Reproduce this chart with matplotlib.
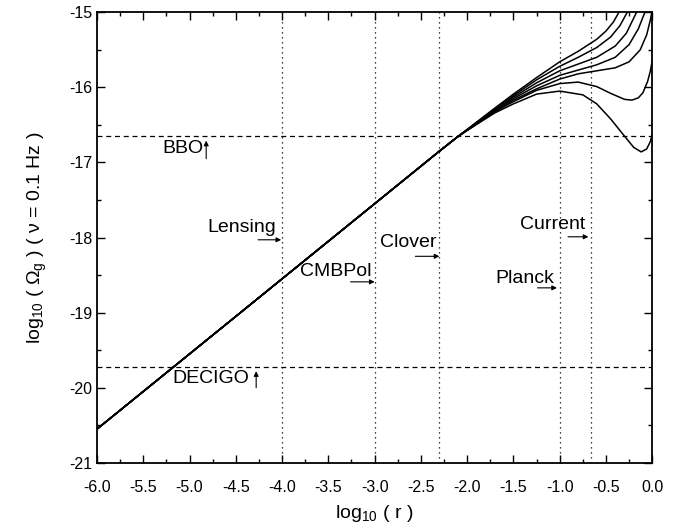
import matplotlib
matplotlib.use("Agg")
import matplotlib.pyplot as plt

plt.rcParams['font.family'] = ['Liberation Sans', 'DejaVu Sans']
plt.rcParams['mathtext.default'] = 'regular'
plt.rcParams['axes.unicode_minus'] = False

# common straight part (all curves overlap here)
x_common = [-6.0, -4.0, -2.3, -2.1]
y_common = [-20.55, -18.55, -16.85, -16.655]

# fan-out part of each curve
curve_x = [
    [-1.9, -1.7, -1.5, -1.25, -1.0, -0.8, -0.6, -0.5, -0.42, -0.36],
    [-1.9, -1.7, -1.5, -1.25, -1.0, -0.8, -0.6, -0.45, -0.35, -0.27],
    [-1.9, -1.7, -1.5, -1.25, -1.0, -0.8, -0.6, -0.4, -0.28, -0.17],
    [-1.9, -1.7, -1.5, -1.25, -1.0, -0.8, -0.6, -0.4, -0.25, -0.15, -0.08],
    [-1.9, -1.7, -1.5, -1.25, -1.0, -0.8, -0.6, -0.4, -0.25, -0.13, -0.06, -0.02, -0.005],
    [-1.9, -1.7, -1.5, -1.25, -1.0, -0.8, -0.6, -0.45, -0.3, -0.22, -0.15, -0.1, -0.05, -0.02, 0.0],
    [-1.9, -1.7, -1.5, -1.25, -1.0, -0.75, -0.6, -0.45, -0.3, -0.2, -0.12, -0.06, -0.02, 0.0],
]
curve_y = [
    [-16.465, -16.275, -16.09, -15.87, -15.66, -15.52, -15.36, -15.25, -15.13, -15.0],
    [-16.47, -16.285, -16.11, -15.9, -15.72, -15.6, -15.47, -15.33, -15.18, -15.0],
    [-16.475, -16.295, -16.13, -15.94, -15.78, -15.69, -15.6, -15.45, -15.28, -15.0],
    [-16.48, -16.305, -16.15, -15.98, -15.84, -15.77, -15.7, -15.6, -15.43, -15.22, -15.0],
    [-16.485, -16.315, -16.17, -16.02, -15.89, -15.82, -15.78, -15.74, -15.66, -15.5, -15.3, -15.1, -15.0],
    [-16.49, -16.325, -16.19, -16.04, -15.95, -15.93, -15.99, -16.08, -16.16, -16.17, -16.14, -16.07, -15.92, -15.78, -15.64],
    [-16.495, -16.34, -16.22, -16.09, -16.05, -16.1, -16.22, -16.42, -16.65, -16.8, -16.86, -16.82, -16.72, -16.62],
]

# experiment sensitivities
vlines_x = [-4.0, -3.0, -2.3, -1.0, -0.66]
hlines_y = [-16.65, -19.72]

labels = ["BBO", "Lensing", "CMBPol", "Clover", "Current", "Planck", "DECIGO"]
label_xy = [(-5.29, -16.82), (-4.81, -17.87), (-3.81, -18.45), (-2.94, -18.07),
            (-1.43, -17.82), (-1.70, -18.55), (-5.19, -19.88)]
arrow_from = [(-4.82, -16.95), (-4.26, -18.03), (-3.26, -18.59), (-2.56, -18.25),
              (-0.91, -17.99), (-1.24, -18.67), (-4.28, -20.0)]
arrow_to = [(-4.82, -16.71), (-4.01, -18.03), (-3.0, -18.59), (-2.30, -18.25),
            (-0.69, -17.99), (-1.03, -18.67), (-4.28, -19.78)]

fig = plt.figure(figsize=(6.83, 5.32), dpi=100)
ax = fig.add_axes([0.142, 0.130, 0.813, 0.847])

for cx, cy in zip(curve_x, curve_y):
    ax.plot(x_common + cx, y_common + cy, color='k', lw=1.1)

for xv in vlines_x:
    ax.axvline(xv, color='k', lw=0.9, linestyle=(0, (1, 3)))
for yv in hlines_y:
    ax.axhline(yv, color='k', lw=0.9, linestyle=(0, (4, 3)))

for lab, (tx, ty), a0, a1 in zip(labels, label_xy, arrow_from, arrow_to):
    ax.text(tx, ty, lab, fontsize=14, ha='left', va='center')
    ax.annotate("", xy=a1, xytext=a0,
                arrowprops=dict(arrowstyle='-|>', lw=0.8, color='k',
                                mutation_scale=7, shrinkA=0, shrinkB=0))

ax.set_xlim(-6.0, 0.0)
ax.set_ylim(-21, -15)
ax.set_xticks([-6.0 + 0.5 * i for i in range(13)])
ax.set_xticklabels([f"{-6.0 + 0.5 * i:.1f}" for i in range(13)])
ax.set_xticks([-6.0 + 0.25 * i for i in range(25)], minor=True)
ax.set_yticks([-21, -20, -19, -18, -17, -16, -15])
ax.set_yticks([-21 + 0.5 * i for i in range(13)], minor=True)
ax.tick_params(which='both', direction='in', top=True, right=True, labelsize=11.5, width=1.0)
ax.tick_params(which='major', length=6)
ax.tick_params(which='minor', length=3)
ax.tick_params(axis='x', which='major', pad=12)
for sp in ax.spines.values():
    sp.set_linewidth(1.3)

ax.set_xlabel("log$_{10}$ ( r )", fontsize=14, labelpad=6)
ax.set_ylabel("log$_{10}$ ( $\\Omega_g$ ) ( \u03bd = 0.1 Hz )", fontsize=14, labelpad=14)

fig.savefig("out.png", dpi=100)
